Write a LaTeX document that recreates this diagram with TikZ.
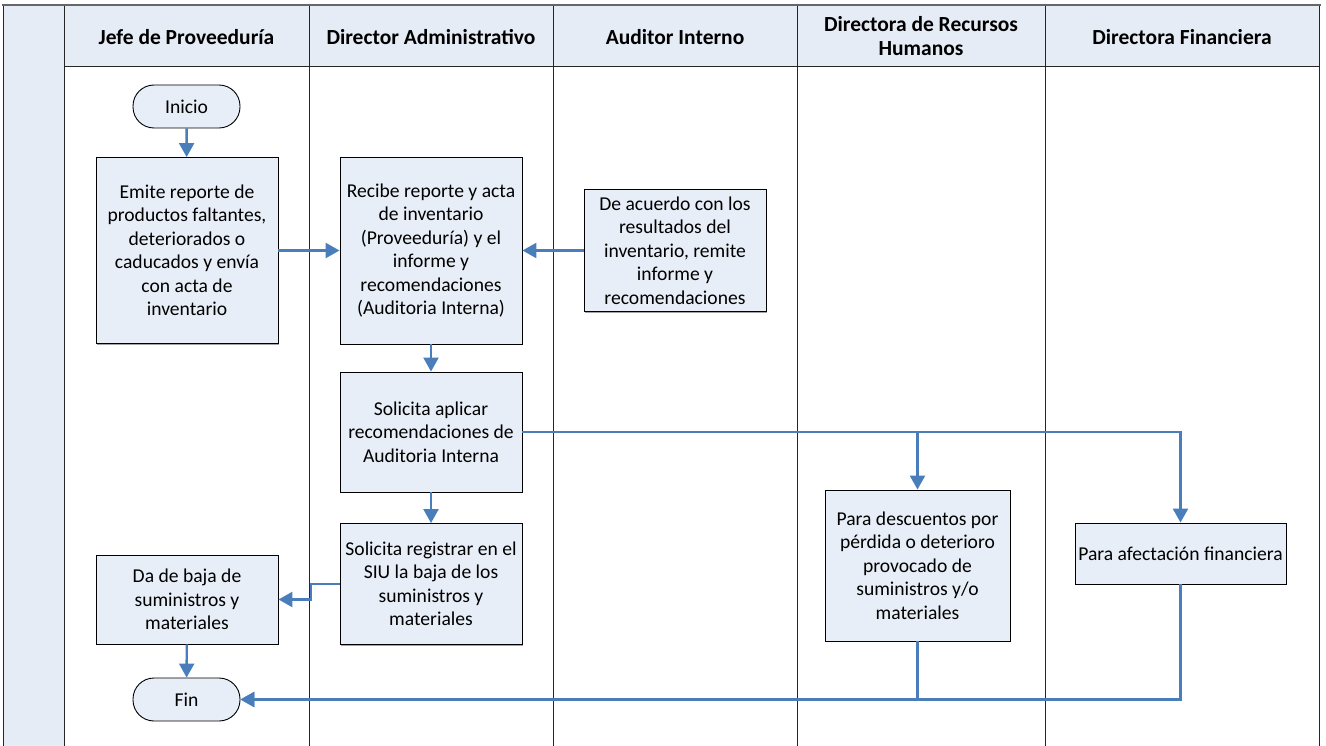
\documentclass[tikz,border=0pt]{standalone}
\usepackage{fontspec}
\setmainfont{Carlito}
\usetikzlibrary{arrows.meta,shadows}
\definecolor{lanefill}{HTML}{E6ECF6}
\definecolor{boxfill}{HTML}{E8EEF7}
\definecolor{flow}{HTML}{4A7EBB}
\begin{document}
\begin{tikzpicture}[x=1pt,y=-1pt,
  boxshadow/.style={drop shadow={shadow xshift=1.2pt, shadow yshift=-1.2pt, fill=black!45, opacity=0.8}},
  proc/.style={draw=black, line width=0.9pt, fill=boxfill, align=center, inner sep=0pt,
    boxshadow, font=\fontsize{19.6}{23.5}\selectfont},
  term/.style={draw=black, line width=0.9pt, fill=boxfill, rounded corners=21pt, inner sep=0pt,
    minimum width=107pt, minimum height=43pt, font=\fontsize{19.6}{23.5}\selectfont},
  flowline/.style={draw=flow, line width=2.4pt, -{Triangle[length=14pt,width=15pt]}},
  lanehead/.style={font=\bfseries\fontsize{21.5}{24}\selectfont, align=center},
  lanerule/.style={draw=black!85, line width=1pt}
]
\useasboundingbox (0,0) rectangle (1326,746);

% pool background
\fill[lanefill] (3,6) rectangle (64,746);
\fill[lanefill] (64,6) rectangle (1319,67);
\draw[black!60, line width=1.6pt] (2,5) -- (1321,5);
\foreach \lx in {3,64,309,553,797,1045,1319}
  \draw[lanerule] (\lx,6) -- (\lx,746);
\draw[lanerule] (64,67) -- (1319,67);

% lane headers
\node[lanehead] (h1) at (186.5,37) {Jefe de Proveeduría};
\node[lanehead] (h2) at (431,37) {Director Administrativo};
\node[lanehead] (h3) at (675,37) {Auditor Interno};
\node[lanehead] (h4) at (921,36) {Directora de Recursos\\Humanos};
\node[lanehead] (h5) at (1182,37) {Directora Financiera};

% process steps
\node[term] (ini) at (186.5,106.5) {Inicio};
\node[proc, minimum width=182pt, minimum height=186pt] (emite) at (187,250.5)
  {Emite reporte de\\productos faltantes,\\deteriorados o\\caducados y envía\\con acta de\\inventario};
\node[proc, minimum width=182pt, minimum height=187pt] (recibe) at (431,250.5)
  {Recibe reporte y acta\\de inventario\\(Proveeduría) y el\\informe y\\recomendaciones\\(Auditoria Interna)};
\node[proc, minimum width=182pt, minimum height=122pt] (deac) at (675,250.5)
  {De acuerdo con los\\resultados del\\inventario, remite\\informe y\\recomendaciones};
\node[proc, minimum width=182pt, minimum height=120pt] (aplicar) at (431,432)
  {Solicita aplicar\\recomendaciones de\\Auditoria Interna};
\node[proc, minimum width=182pt, minimum height=121pt] (registrar) at (431,584)
  {Solicita registrar en el\\SIU la baja de los\\suministros y\\materiales};
\node[proc, minimum width=182pt, minimum height=89pt] (baja) at (187,599.5)
  {Da de baja de\\suministros y\\materiales};
\node[term] (fin) at (186.5,699.5) {Fin};
\node[proc, minimum width=185pt, minimum height=151pt] (desc) at (917.5,565.5)
  {Para descuentos por\\pérdida o deterioro\\provocado de\\suministros y/o\\materiales};
\node[proc, minimum width=211pt, minimum height=61pt] (afect) at (1180.5,553.5)
  {Para afectación financiera};

% connectors
\coordinate (jog) at (311,0);
\draw[flowline] (ini) -- (emite);
\draw[flowline] (emite) -- (recibe);
\draw[flowline] (deac) -- (recibe);
\draw[flowline] (recibe) -- (aplicar);
\draw[flowline] (aplicar) -- (registrar);
\draw[flowline] (aplicar.east) -| (desc.north);
\draw[flowline] (aplicar.east) -| (afect.north);
\draw[flowline] (registrar.west) -- (jog |- registrar.west) |- (baja.east);
\draw[flowline] (baja) -- (fin);
\draw[flowline] (afect.south) |- (fin.east);
\draw[flowline] (desc.south) |- (fin.east);
\end{tikzpicture}
\end{document}
